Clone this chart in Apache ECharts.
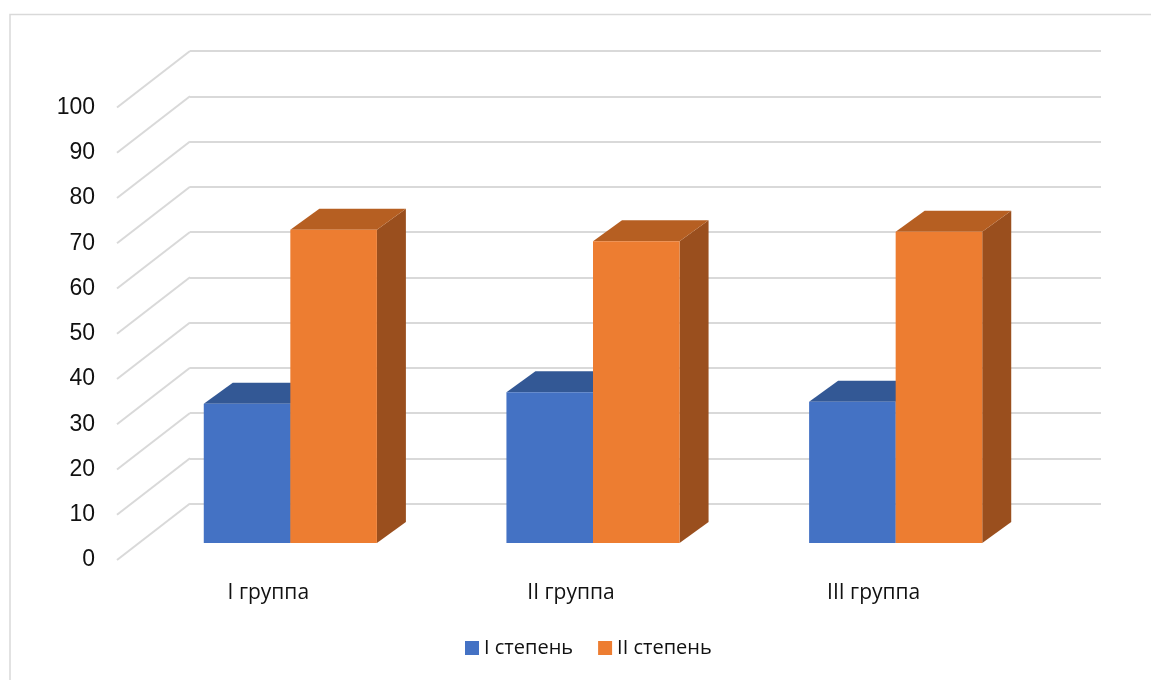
<!DOCTYPE html>
<html>
<head>
<meta charset="utf-8">
<script src="https://cdn.jsdelivr.net/npm/echarts@6/dist/echarts.min.js"></script>
<style>
  html, body { margin: 0; padding: 0; background: #ffffff; }
  #chart { width: 1151px; height: 680px; }
</style>
</head>
<body>
<div id="chart"></div>
<script>
// ---- data ----
const categories = ['I группа', 'II группа', 'III группа'];
const seriesNames = ['I степень', 'II степень'];
const degree1 = [30.8, 33.3, 31.2];
const degree2 = [69.2, 66.7, 68.8];
const yTicks = [0, 10, 20, 30, 40, 50, 60, 70, 80, 90, 100];

// ---- oblique 3D projection (pixel offsets) ----
const WALL_SHIFT = [73, -56.5];   // front floor edge -> back wall
const FRONT_SHIFT = [22, -17];    // front floor edge -> front face of bars
const BAR_DEPTH = [29, -21];      // depth of one bar
const BAR_RATIO = 0.286;          // bar width as share of a category band

const palette = [
  { front: '#4472C4', top: '#335895', side: '#2E4F86' },
  { front: '#ED7D31', top: '#B65F22', side: '#9A4F1E' }
];

function barRenderer(slot, colors) {
  return function (params, api) {
    const cat = api.value(0);
    const val = api.value(1);
    const base = api.coord([cat, 0]);
    const top = api.coord([cat, val]);
    const band = api.size([1, 0])[0];
    const w = band * BAR_RATIO;
    const x0 = base[0] + FRONT_SHIFT[0] + (slot === 0 ? -w : 0);
    const x1 = x0 + w;
    const yB = base[1] + FRONT_SHIFT[1];
    const yT = top[1] + FRONT_SHIFT[1];
    const dx = BAR_DEPTH[0], dy = BAR_DEPTH[1];
    return {
      type: 'group',
      children: [
        { type: 'polygon',
          shape: { points: [[x1, yT], [x1 + dx, yT + dy], [x1 + dx, yB + dy], [x1, yB]] },
          style: { fill: colors.side } },
        { type: 'polygon',
          shape: { points: [[x0, yT], [x1, yT], [x1 + dx, yT + dy], [x0 + dx, yT + dy]] },
          style: { fill: colors.top } },
        { type: 'rect',
          shape: { x: x0, y: yT, width: w, height: yB - yT },
          style: { fill: colors.front } }
      ]
    };
  };
}

// gridlines on the left side wall, from the front edge up to the back wall
function sideWallRenderer(params, api) {
  const p = api.coord([0, api.value(1)]);
  const x = params.coordSys.x;
  return {
    type: 'line',
    shape: { x1: x, y1: p[1], x2: x + WALL_SHIFT[0], y2: p[1] + WALL_SHIFT[1] },
    style: { stroke: '#d9d9d9', lineWidth: 2 }
  };
}

const chart = echarts.init(document.getElementById('chart'), null, { renderer: 'canvas' });

chart.setOption({
  backgroundColor: '#ffffff',
  animation: false,
  graphic: [{
    type: 'rect',
    shape: { x: 10, y: 14.5, width: 1200, height: 700 },
    style: { fill: null, stroke: '#d9d9d9', lineWidth: 1.5 },
    silent: true,
    z: -10
  }],
  grid: [
    // back wall
    { left: 190, top: 51, width: 911, height: 452.5 },
    // front floor edge
    { left: 117, top: 107.5, width: 908, height: 452.5 }
  ],
  xAxis: [
    { type: 'category', gridIndex: 0, data: categories, show: false },
    { type: 'category', gridIndex: 1, data: categories,
      axisLine: { show: false }, axisTick: { show: false },
      axisLabel: { margin: 23, fontFamily: 'Open Sans', fontSize: 21, color: '#111111' } }
  ],
  yAxis: [
    { type: 'value', gridIndex: 0, min: 0, max: 100, interval: 10,
      axisLine: { show: false }, axisTick: { show: false }, axisLabel: { show: false },
      splitLine: { lineStyle: { color: '#d9d9d9', width: 2 } } },
    { type: 'value', gridIndex: 1, min: 0, max: 100, interval: 10,
      axisLine: { show: false }, axisTick: { show: false }, splitLine: { show: false },
      axisLabel: { margin: 22, fontFamily: 'Liberation Sans', fontSize: 23, color: '#111111' } }
  ],
  legend: {
    data: seriesNames,
    left: 465,
    top: 638,
    padding: 0,
    icon: 'rect',
    itemWidth: 14,
    itemHeight: 14,
    itemGap: 25,
    textStyle: { fontFamily: 'Open Sans', fontSize: 20, color: '#111111' }
  },
  series: [
    {
      name: 'sideWall',
      type: 'custom',
      xAxisIndex: 1, yAxisIndex: 1,
      silent: true,
      renderItem: sideWallRenderer,
      data: yTicks.map(v => [0, v]),
      z: 1
    },
    {
      name: seriesNames[0],
      type: 'custom',
      xAxisIndex: 1, yAxisIndex: 1,
      itemStyle: { color: palette[0].front },
      renderItem: barRenderer(0, palette[0]),
      encode: { x: 0, y: 1 },
      data: degree1.map((v, i) => [i, v]),
      z: 2
    },
    {
      name: seriesNames[1],
      type: 'custom',
      xAxisIndex: 1, yAxisIndex: 1,
      itemStyle: { color: palette[1].front },
      renderItem: barRenderer(1, palette[1]),
      encode: { x: 0, y: 1 },
      data: degree2.map((v, i) => [i, v]),
      z: 3
    }
  ]
});
</script>
</body>
</html>
